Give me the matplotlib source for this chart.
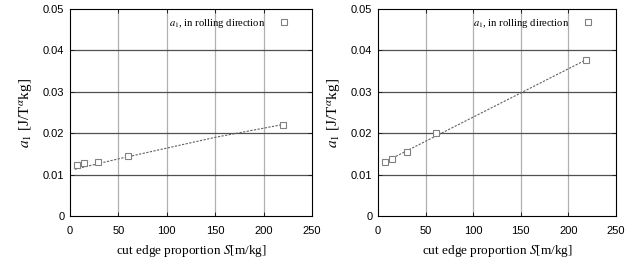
import matplotlib
matplotlib.use("Agg")
import matplotlib.pyplot as plt

# 측정값 (cut edge proportion S [m/kg] vs a1)
s_left = [7, 14, 29, 60, 220]
a1_left = [0.0123, 0.0129, 0.0130, 0.0145, 0.0220]
fit_s_left = [5, 50, 100, 150, 220]
fit_a1_left = [0.0113, 0.0138, 0.0164, 0.0190, 0.0221]

s_right = [7, 15, 30, 61, 219]
a1_right = [0.0131, 0.0138, 0.0154, 0.0201, 0.0376]
fit_s_right = [5, 220]
fit_a1_right = [0.0128, 0.0379]

x_ticks = [0, 50, 100, 150, 200, 250]
y_ticks = [0, 0.01, 0.02, 0.03, 0.04, 0.05]
y_ticklabels = ["0", "0.01", "0.02", "0.03", "0.04", "0.05"]

plt.rcParams['mathtext.fontset'] = 'stix'
serif = ['Liberation Serif', 'DejaVu Serif']
sans = ['Liberation Sans', 'DejaVu Sans']

fig = plt.figure(figsize=(6.44, 2.63), dpi=100)
ax1 = fig.add_axes([70/644, 47/263, 242/644, 207/263])
ax2 = fig.add_axes([378/644, 47/263, 238/644, 207/263])


def draw(ax, s, a1, fs, fa):
    ax.set_xlim(0, 250)
    ax.set_ylim(0, 0.05)
    # 격자: 세로는 옅게, 가로는 진하게
    for x in x_ticks[1:-1]:
        ax.axvline(x, color='#b0b0b0', lw=0.9, zorder=0)
    for y in y_ticks[1:-1]:
        ax.axhline(y, color='#505050', lw=0.9, zorder=0)
    ax.plot(fs, fa, ls=(0, (2.0, 1.3)), color='#606060', lw=0.8, zorder=2)
    ax.plot(s, a1, ls='none', marker='s', ms=5, mfc='white',
            mec='#808080', mew=0.8, zorder=3,
            label=r'$a_1$, in rolling direction')
    ax.set_xticks(x_ticks)
    ax.set_yticks(y_ticks)
    ax.set_yticklabels(y_ticklabels)
    ax.tick_params(direction='in', length=3, width=0.7, top=True, right=True,
                   labelsize=8, color='#202020')
    ax.tick_params(axis='x', pad=7)
    ax.tick_params(axis='y', pad=4)
    for lab in ax.get_xticklabels() + ax.get_yticklabels():
        lab.set_family(sans)
    for sp in ax.spines.values():
        sp.set_linewidth(0.8)
    ax.set_xlabel(r'cut edge proportion $S$[m/kg]', family=serif, fontsize=9.5,
                  labelpad=5)
    ax.set_ylabel(r'$a_1$ [J/T$^{\alpha}$kg]', family=serif, fontsize=11,
                  labelpad=6)
    ax.legend(loc='upper right', bbox_to_anchor=(0.945, 1.01), frameon=False,
              markerfirst=False, prop={'family': serif, 'size': 7.7},
              handlelength=1.0, borderaxespad=0.5, handletextpad=1.2)


draw(ax1, s_left, a1_left, fit_s_left, fit_a1_left)
draw(ax2, s_right, a1_right, fit_s_right, fit_a1_right)

plt.savefig('out.png', dpi=100)
